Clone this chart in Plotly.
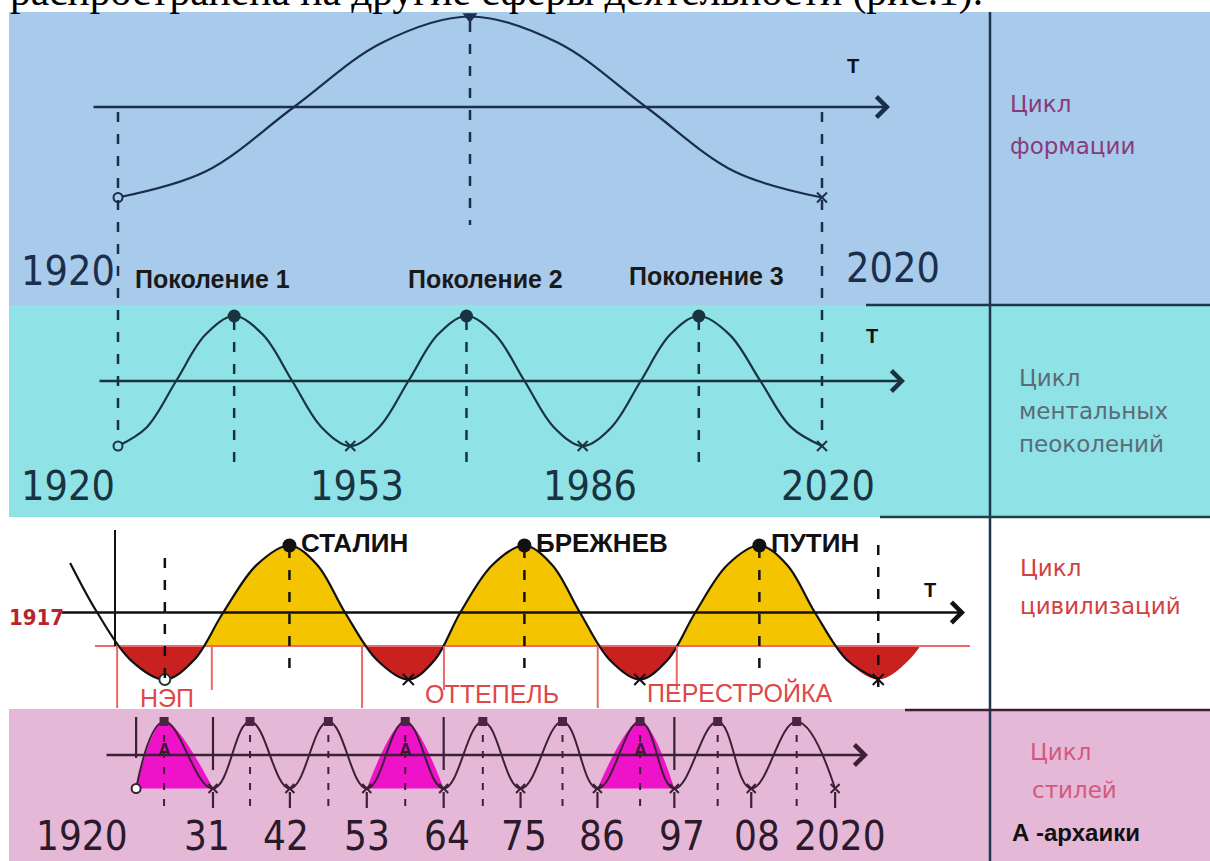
import plotly.graph_objects as go

W, H = 1210, 861

# ---------------- data ----------------
form_years = [1920, 1932.5, 1945, 1957.5, 1970, 1982.5, 1995, 2007.5, 2020]
form_values = [-1, -0.71, 0, 0.71, 1, 0.71, 0, -0.71, -1]
form_tick_years = [1920, 2020]

gen_years = [1920, 1924.1, 1928.25, 1932.4, 1936.5, 1940.6, 1944.75, 1948.9, 1953,
             1957.1, 1961.25, 1965.4, 1969.5, 1973.6, 1977.75, 1981.9, 1986,
             1990.1, 1994.25, 1998.4, 2002.5, 2006.9, 2011.25, 2015.6, 2020]
gen_values = [-1, -0.71, 0, 0.71, 1, 0.71, 0, -0.71,
              -1, -0.71, 0, 0.71, 1, 0.71, 0, -0.71,
              -1, -0.71, 0, 0.71, 1, 0.71, 0, -0.71, -1]
gen_names = ["Поколение 1", "Поколение 2", "Поколение 3"]
gen_tick_years = [1920, 1953, 1986, 2020]

civ_start_year = 1917
civ_years = [1910.7, 1914.5, 1919.2, 1924, 1928.1, 1932.2, 1936.9, 1941.5, 1945.4, 1949.3,
             1953.8, 1958.2, 1961.9, 1965.5, 1970, 1974.5, 1978.4, 1982.3, 1986.5, 1990.7,
             1994.6, 1998.5, 2003, 2007.5, 2011.4, 2015.3, 2019.8, 2024.2, 2028.5, 2033]
civ_values = [0.74, 0, -0.71, -1, -0.71, 0, 0.71, 1, 0.71, 0,
              -0.71, -1, -0.71, 0, 0.71, 1, 0.71, 0, -0.71, -1,
              -0.71, 0, 0.71, 1, 0.71, 0, -0.71, -1, -0.71, 0]
civ_level = -0.5
civ_leaders = ["СТАЛИН", "БРЕЖНЕВ", "ПУТИН"]
civ_periods = ["НЭП", "ОТТЕПЕЛЬ", "ПЕРЕСТРОЙКА"]
civ_period_bounds = [(1917.3, 1930.6), (1951.7, 1963.2), (1984.8, 1995.9)]

style_years = [1920, 1924, 1931, 1936.3, 1942, 1947.5, 1953, 1958.5, 1964, 1969.6,
               1975, 1981, 1986, 1992.1, 1997, 2003.2, 2008, 2014.5, 2020]
style_values = [-1, 1, -1, 1, -1, 1, -1, 1, -1, 1, -1, 1, -1, 1, -1, 1, -1, 1, -1]
style_tick_labels = ["1920", "31", "42", "53", "64", "75", "86", "97", "08", "2020"]
archaic_cycles = [(1920, 1931), (1953, 1964), (1986, 1997)]

# ---------------- colours & fonts ----------------
BLUE_BG, CYAN_BG, PINK_BG = "#A8CAEB", "#8FE2E5", "#E6B8D8"
C1, C2, C3, C4 = "#1B2E4B", "#1A3340", "#111111", "#3B2036"
YELLOW, RED_FILL, RED_LINE, MAGENTA = "#F5C400", "#C92020", "#E86A6A", "#EE12C8"
NARROW = "Liberation Sans Narrow, DejaVu Sans Condensed, Arial Narrow, sans-serif"
SANS = "Liberation Sans, Arial, sans-serif"
LABEL = "DejaVu Sans, Verdana, sans-serif"

# ---------------- geometry helpers (layout only) ----------------
def pxp(px):
    return px / W

def pyp(py):
    return 1 - py / H

XA = (118, 1920, 7.04)   # panels 1, 2
XB = (115, 1917, 7.12)   # panel 3
XC = (213, 1931, 6.99)   # panel 4

def xr(spec):
    p, yr, k = spec
    return [yr - p / k, yr + (W - p) / k]

def yax(top, bot, base, amp):
    return dict(domain=[pyp(bot), pyp(top)], range=[(base - bot) / amp, (base - top) / amp],
                visible=False, fixedrange=True)

def peaks(xs, vs):
    return [x for x, v in zip(xs, vs) if v == 1]

def troughs(xs, vs):
    return [x for x, v in zip(xs, vs) if v == -1]

fig = go.Figure()

def add(x, y, xa, ya, **kw):
    fig.add_trace(go.Scatter(x=x, y=y, xaxis=xa, yaxis=ya, showlegend=False,
                             hoverinfo="skip", **kw))

def xmark(color, size=10):
    return dict(symbol="x-thin-open", size=size, color=color, line=dict(color=color, width=2))

# ---------- panel 1: formation ----------
add(form_years, form_values, "x", "y", mode="lines",
    line=dict(color=C1, width=2.2, shape="spline", smoothing=1.0))
add(form_years[:1], form_values[:1], "x", "y", mode="markers",
    marker=dict(symbol="circle", size=9, color=BLUE_BG, line=dict(color=C1, width=2)), cliponaxis=False)
add(form_years[-1:], form_values[-1:], "x", "y", mode="markers", marker=xmark(C1), cliponaxis=False)
add(peaks(form_years, form_values), [1], "x", "y", mode="markers",
    marker=dict(symbol="triangle-down", size=13, color=C1), cliponaxis=False)

# ---------- panel 2: generations ----------
add(gen_years, gen_values, "x", "y2", mode="lines",
    line=dict(color=C2, width=2.2, shape="spline", smoothing=1.0))
add(gen_years[:1], gen_values[:1], "x", "y2", mode="markers",
    marker=dict(symbol="circle", size=9, color=CYAN_BG, line=dict(color=C2, width=2)), cliponaxis=False)
gt = troughs(gen_years, gen_values)[1:]
add(gt, [-1] * len(gt), "x", "y2", mode="markers", marker=xmark(C2), cliponaxis=False)
gp = peaks(gen_years, gen_values)
add(gp, [1] * len(gp), "x", "y2", mode="markers",
    marker=dict(symbol="circle", size=13, color=C2), cliponaxis=False)

# ---------- panel 3: civilisations ----------
tr_idx = [i for i, v in enumerate(civ_values) if v == -1]
i0, i1 = tr_idx[0], tr_idx[-1]
# yellow layer (clipped above the level)
add([civ_years[i0], civ_years[i1]], [civ_level, civ_level], "x2", "y3", mode="lines",
    line=dict(width=0))
add(civ_years[i0:i1 + 1], civ_values[i0:i1 + 1], "x2", "y3", mode="lines",
    line=dict(width=0, shape="spline", smoothing=1.0), fill="tonexty", fillcolor=YELLOW)
# red layer (clipped below the level)
add([civ_years[0], civ_years[-1]], [civ_level, civ_level], "x2", "y4", mode="lines",
    line=dict(width=0))
add(civ_years, civ_values, "x2", "y4", mode="lines",
    line=dict(width=0, shape="spline", smoothing=1.0), fill="tonexty", fillcolor=RED_FILL)
# level line and curve
lvl_x = [XB[1] + (95 - XB[0]) / XB[2], XB[1] + (970 - XB[0]) / XB[2]]
add(lvl_x, [civ_level, civ_level], "x2", "y5", mode="lines", line=dict(color=RED_LINE, width=2))
add(civ_years[:i1 + 1], civ_values[:i1 + 1], "x2", "y5", mode="lines",
    line=dict(color=C3, width=2.2, shape="spline", smoothing=1.0))
cp = peaks(civ_years, civ_values)
add(cp, [1] * len(cp), "x2", "y5", mode="markers",
    marker=dict(symbol="circle", size=14, color=C3), cliponaxis=False)
ct = troughs(civ_years, civ_values)
add(ct[1:], [-1] * (len(ct) - 1), "x2", "y5", mode="markers", marker=xmark(C3, 11), cliponaxis=False)
add(ct[:1], [-1], "x2", "y5", mode="markers",
    marker=dict(symbol="circle", size=11, color="white", line=dict(color="#1E3A2A", width=2)),
    cliponaxis=False)

# ---------- panel 4: styles ----------
for a, b in archaic_cycles:
    seg = [(x, v) for x, v in zip(style_years, style_values) if a <= x <= b]
    add([s[0] for s in seg], [s[1] for s in seg], "x3", "y6", mode="lines",
        line=dict(width=0, shape="spline", smoothing=1.0), fill="toself", fillcolor=MAGENTA)
add(style_years, style_values, "x3", "y6", mode="lines",
    line=dict(color=C4, width=2, shape="spline", smoothing=1.2))
sp = peaks(style_years, style_values)
add(sp, [1] * len(sp), "x3", "y6", mode="markers",
    marker=dict(symbol="square", size=9, color="#4A2442"), cliponaxis=False)
st = troughs(style_years, style_values)
add(st[1:], [-1] * (len(st) - 1), "x3", "y6", mode="markers", marker=xmark(C4, 9), cliponaxis=False)
add(st[:1], [-1], "x3", "y6", mode="markers",
    marker=dict(symbol="circle", size=9, color="white", line=dict(color=C4, width=2)), cliponaxis=False)

# ---------------- shapes ----------------
shapes = []

def rect(x0, y0, x1, y1, color):
    shapes.append(dict(type="rect", xref="paper", yref="paper", x0=pxp(x0), x1=pxp(x1),
                       y0=pyp(y1), y1=pyp(y0), fillcolor=color, line=dict(width=0), layer="below"))

def hline(x0, x1, y, color, width=2.5):
    shapes.append(dict(type="line", xref="paper", yref="paper", x0=pxp(x0), x1=pxp(x1),
                       y0=pyp(y), y1=pyp(y), line=dict(color=color, width=width)))

def vline(xref, xv, y0, y1, color, width=2.2, dash="solid"):
    shapes.append(dict(type="line", xref=xref, yref="paper", x0=xv, x1=xv,
                       y0=pyp(y0), y1=pyp(y1), line=dict(color=color, width=width, dash=dash)))

rect(9, 12, W, 305, BLUE_BG)
rect(9, 305, W, 517, CYAN_BG)
rect(9, 709, W, H, PINK_BG)

DASH = "10px,12px"
# panel 1 / 2 guides
vline("x", form_tick_years[0], 112, 440, C1, width=2.5, dash=DASH)
vline("x", form_tick_years[1], 112, 440, C1, width=2.5, dash=DASH)
for p in peaks(form_years, form_values):
    vline("x", p, 22, 225, C1, width=2.5, dash=DASH)
for p in gp:
    vline("x", p, 320, 468, C2, width=2.5, dash=DASH)
# panel 3 guides
vline("x2", civ_start_year, 530, 646, C3, width=2)
vline("x2", ct[0], 558, 690, C3, width=2.5, dash=DASH)
for p in cp:
    vline("x2", p, 548, 680, C3, width=2.5, dash=DASH)
vline("x2", ct[-1], 545, 690, C3, width=2.5, dash=DASH)
for a, b in civ_period_bounds:
    vline("x2", a, 646, 708, RED_LINE, width=2)
    vline("x2", b, 646, 690, RED_LINE, width=2)
# panel 4 guides
for p in sp:
    vline("x3", p, 735, 810, C4, width=2, dash="7px,9px")
for t in st[1:]:
    vline("x3", t, 792, 808, C4)
vline("x3", archaic_cycles[0][0], 717, 758, C4)
for a, b in archaic_cycles:
    vline("x3", b, 717, 770, C4)

# dividers
DIV = "#1E3550"
shapes.append(dict(type="line", xref="paper", yref="paper", x0=pxp(990), x1=pxp(990),
                   y0=0, y1=pyp(12), line=dict(color=DIV, width=2.5)))
hline(866, W, 305, DIV)
hline(880, W, 517, "#1E4048")
hline(905, W, 710, "#3A2035")

# ---------------- annotations ----------------
ann = []

def text(t, px, py, size, color, family=SANS, xanchor="center", bold=False):
    if bold:
        t = "<b>" + t + "</b>"
    ann.append(dict(text=t, xref="paper", yref="paper", x=pxp(px), y=pyp(py), xanchor=xanchor,
                    yanchor="middle", showarrow=False, font=dict(size=size, color=color, family=family)))

def arrow(x0, x1, y, color):
    ann.append(dict(text="", xref="paper", yref="paper", x=pxp(x1), y=pyp(y), ax=-(x1 - x0), ay=0,
                    axref="pixel", ayref="pixel", showarrow=True, arrowhead=4, arrowsize=1.6,
                    arrowwidth=2.5, arrowcolor=color))

# cut-off page text at the top
ann.append(dict(text="распространена на другие сферы деятельности (рис.1).", xref="paper",
                yref="paper", x=pxp(8), y=pyp(17), xanchor="left", yanchor="bottom",
                showarrow=False, font=dict(size=41.5, color="black",
                                           family="Liberation Serif, Times New Roman, serif")))

# panel 1
arrow(92, 890, 107, C1)
text("T", 853, 66, 20, "#111111", bold=True)
text("1920", 68, 271, 41, C1, NARROW)
text("2020", 893, 268, 41, C1, NARROW)
# panel 2
arrow(98, 905, 381, C2)
text("T", 872, 336, 20, "#111111", bold=True)
for name, cx, cy in zip(gen_names, [212, 486, 706], [279, 279, 276]):
    text(name, cx, cy, 25, "#1A1A1A", bold=True)
for lab, cx in zip(gen_tick_years, [68, 357, 590, 828]):
    text(str(lab), cx, 486, 41, C2, NARROW)
# panel 3
arrow(60, 965, 612.5, C3)
text("T", 930, 590, 20, "#111111", bold=True)
text("1917", 36, 617, 22, "#B8242C", NARROW, bold=True)
for name, p in zip(civ_leaders, cp):
    ann.append(dict(text="<b>" + name + "</b>", xref="x2", yref="paper", x=p, y=pyp(543),
                    xanchor="left", yanchor="middle", xshift=10, showarrow=False,
                    font=dict(size=26, color="#111111", family=SANS)))
for name, cx, cy in zip(civ_periods, [167, 492, 740], [698, 694, 692]):
    text(name, cx, cy, 25, "#E04848")
# panel 4
arrow(105, 868, 755, C4)
for a, b in archaic_cycles:
    pk = [x for x in sp if a <= x <= b][0]
    ann.append(dict(text="<b>A</b>", xref="x3", yref="y6", x=pk, y=0.15, showarrow=False,
                    font=dict(size=18, color="#3A1A30", family=SANS)))
for lab, cx in zip(style_tick_labels, [82, 207, 286, 367, 447, 524, 602, 682, 757, 840]):
    text(lab, cx, 836, 40, "#2A1A2A", NARROW)

# right column
text("Цикл", 1008, 104, 23, "#8A3A7A", LABEL, "left")
text("формации", 1008, 146, 23, "#8A3A7A", LABEL, "left")
text("Цикл", 1017, 378, 23, "#5B6B78", LABEL, "left")
text("ментальных", 1017, 411, 23, "#5B6B78", LABEL, "left")
text("пеоколений", 1017, 444, 23, "#5B6B78", LABEL, "left")
text("Цикл", 1018, 568, 23, "#D2403F", LABEL, "left")
text("цивилизаций", 1018, 606, 23, "#D2403F", LABEL, "left")
text("Цикл", 1028, 752, 23, "#D4587A", LABEL, "left")
text("стилей", 1030, 790, 23, "#D4587A", LABEL, "left")
text("<b>А -архаики</b>", 1010, 832, 24, "#111111", SANS, "left")

fig.update_layout(
    width=W, height=H, margin=dict(l=0, r=0, t=0, b=0),
    paper_bgcolor="white", plot_bgcolor="rgba(0,0,0,0)",
    shapes=shapes, annotations=ann, showlegend=False,
    xaxis=dict(domain=[0, 1], range=xr(XA), visible=False, fixedrange=True),
    xaxis2=dict(domain=[0, 1], range=xr(XB), visible=False, fixedrange=True),
    xaxis3=dict(domain=[0, 1], range=xr(XC), visible=False, fixedrange=True),
    yaxis=yax(0, 305, 107, 90.5),
    yaxis2=yax(290, 517, 381, 65),
    yaxis3=yax(517, 646, 612.5, 67),
    yaxis4=yax(646, 709, 612.5, 67),
    yaxis5=yax(517, 720, 612.5, 67),
    yaxis6=yax(709, 861, 755, 33.5),
)

fig.write_html("out.html", config={"displayModeBar": False},
               post_script="document.body.style.margin='0';document.body.style.overflow='hidden';")
